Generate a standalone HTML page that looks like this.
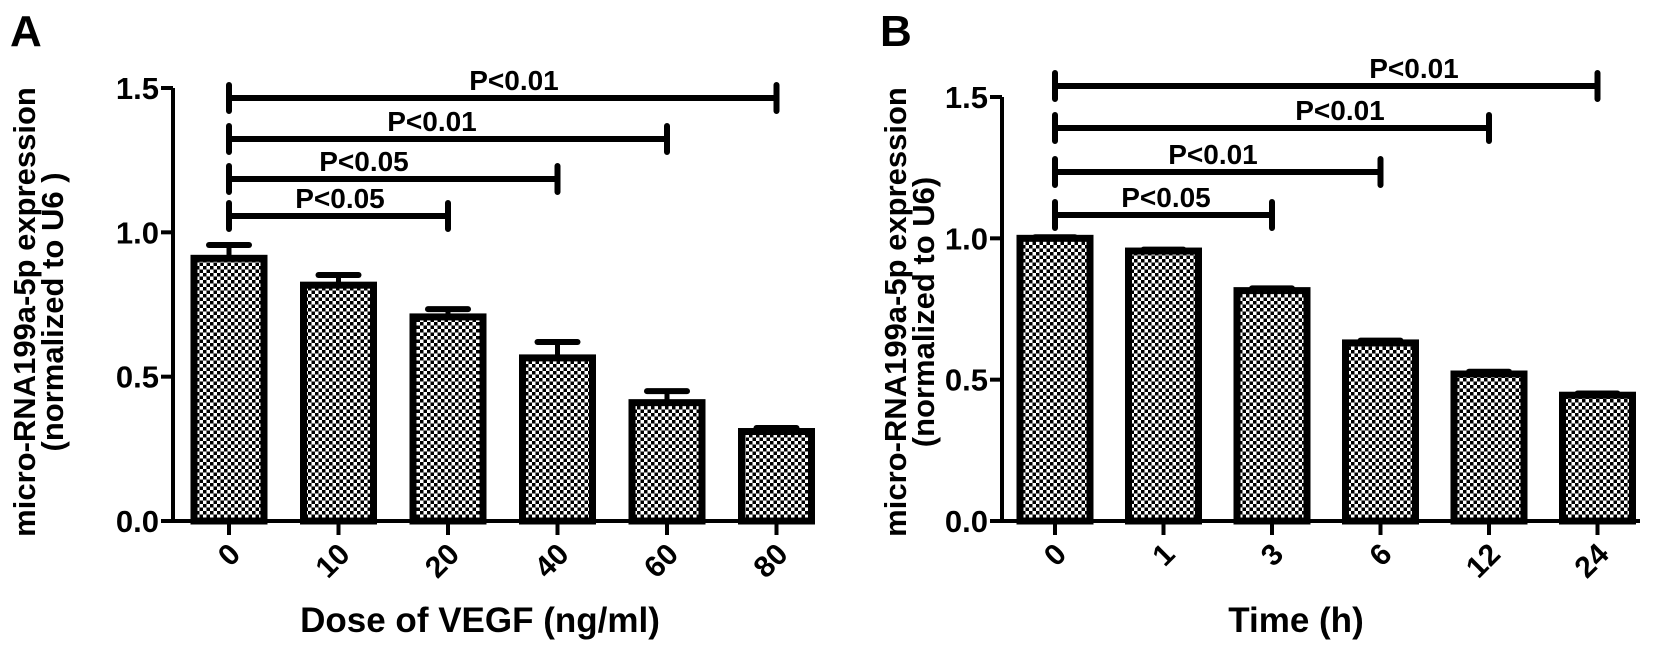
<!DOCTYPE html>
<html><head><meta charset="utf-8"><style>
html,body{margin:0;padding:0;background:#fff}
svg{display:block}
text{font-family:"Liberation Sans",Arial,sans-serif;font-weight:bold;fill:#000}
</style></head><body>
<svg id="fig" width="1654" height="651" viewBox="0 0 1654 651" xmlns="http://www.w3.org/2000/svg">
<defs>
<pattern id="chk" width="7" height="7" patternUnits="userSpaceOnUse">
<rect width="7" height="7" fill="#fff"/>
<rect x="0" y="0" width="3.5" height="3.5" fill="#000"/>
<rect x="3.5" y="3.5" width="3.5" height="3.5" fill="#000"/>
</pattern>
</defs>
<g id="panelA"></g>
<g id="panelB"></g>
</svg>
<script>
// Panel A data
const catsA = ["0","10","20","40","60","80"];
const valsA = [0.91,0.817,0.707,0.565,0.41,0.31];
const errA  = [0.046,0.035,0.027,0.055,0.04,0.012];
const sigA  = [["P<0.01",5],["P<0.01",4],["P<0.05",3],["P<0.05",2]];
// Panel B data
const catsB = ["0","1","3","6","12","24"];
const valsB = [1.0,0.955,0.815,0.63,0.52,0.445];
const errB  = [0.004,0.005,0.008,0.008,0.008,0.006];
const sigB  = [["P<0.01",5],["P<0.01",4],["P<0.01",3],["P<0.05",2]];
const yTicks = [0,0.5,1.0,1.5];
const yTickLabels = ["0.0","0.5","1.0","1.5"];

const NS="http://www.w3.org/2000/svg";
function mk(parent,tag,attrs){const e=document.createElementNS(NS,tag);for(const k in attrs)e.setAttribute(k,attrs[k]);parent.appendChild(e);return e;}

function drawPanel(g,cfg){
  const yS=v=>cfg.y0-(cfg.y0-cfg.y15)*v/1.5;
  const xS=i=>cfg.c0+cfg.sp*i;
  const L=mk(g,'text',{x:cfg.letterX,y:46,'font-size':44});
  
  
  L.textContent=cfg.letter;
  const t1=mk(g,'text',{x:0,y:0,'font-size':31,'text-anchor':'middle',transform:`translate(${cfg.t1x},312) rotate(-90)`});
  
  
  t1.textContent="micro-RNA199a-5p expression";
  const t2=mk(g,'text',{x:0,y:0,'font-size':31,'text-anchor':'middle',transform:`translate(${cfg.t2x},312) rotate(-90)`});
  
  
  t2.textContent=cfg.sub;
  cfg.vals.forEach((v,i)=>{
    const cx=xS(i),w=70;
    const top=yS(v),eTop=yS(v+cfg.err[i]);
    const eb=mk(g,'line',{x1:cx,x2:cx,y1:top,y2:eTop,stroke:'#000','stroke-width':5});
    
    
    const cap=mk(g,'line',{x1:cx-20,x2:cx+20,y1:eTop,y2:eTop,stroke:'#000','stroke-width':6,'stroke-linecap':'round'});
    
    
    const r=mk(g,'rect',{x:cx-w/2,y:top,width:w,height:cfg.y0-top,fill:'url(#chk)',stroke:'#000','stroke-width':7});
    
    
    const tk=mk(g,'line',{x1:cx,x2:cx,y1:cfg.y0,y2:cfg.y0+14,stroke:'#000','stroke-width':4});
    
    
    const tl=mk(g,'text',{x:0,y:0,'font-size':30,'text-anchor':'end',transform:`translate(${cx+13},${cfg.y0+35}) rotate(-45)`});
    
    
    tl.textContent=cfg.cats[i];
  });
  const ya=mk(g,'line',{x1:cfg.ax,x2:cfg.ax,y1:cfg.y15,y2:cfg.y0+2,stroke:'#000','stroke-width':4});
  
  
  const xa=mk(g,'line',{x1:cfg.ax-2,x2:cfg.xEnd,y1:cfg.y0,y2:cfg.y0,stroke:'#000','stroke-width':4});
  
  
  yTicks.forEach((v,i)=>{
    const y=yS(v);
    const t=mk(g,'line',{x1:cfg.ax-12,x2:cfg.ax,y1:y,y2:y,stroke:'#000','stroke-width':4});
    
    
    const l=mk(g,'text',{x:cfg.ax-14,y:y+11,'font-size':31,'text-anchor':'end'});
    
    
    l.textContent=yTickLabels[i];
  });
  cfg.sig.forEach((s,k)=>{
    const y=cfg.bY[k],x1=xS(0),x2=xS(s[1]);
    const b=mk(g,'path',{d:`M${x1},${y-13}V${y+13}M${x1},${y}H${x2}M${x2},${y-13}V${y+13}`,stroke:'#000','stroke-width':6,fill:'none','stroke-linecap':'round'});
    
    
    const tx=mk(g,'text',{x:cfg.lX[k],y:y-8,'font-size':28,'text-anchor':'middle'});
    
    
    tx.textContent=s[0];
  });
  const xt=mk(g,'text',{x:cfg.xtX,y:632,'font-size':35,'text-anchor':'middle'});
  
  
  xt.textContent=cfg.xt;
}

drawPanel(document.getElementById('panelA'),{
  letter:"A",letterX:10,t1x:35,t2x:63,sub:"(normalized to U6 )",
  cats:catsA,vals:valsA,err:errA,sig:sigA,
  ax:173,y0:521,y15:88,c0:229,sp:109.5,xEnd:815,
  bY:[98,139,179,216],lX:[514,432,364,340],
  xt:"Dose of VEGF (ng/ml)",xtX:480
});
drawPanel(document.getElementById('panelB'),{
  letter:"B",letterX:880,t1x:906,t2x:934,sub:"(normalized to U6)",
  cats:catsB,vals:valsB,err:errB,sig:sigB,
  ax:1002,y0:521,y15:97,c0:1055,sp:108.5,xEnd:1640,
  bY:[86,128,172,215],lX:[1414,1340,1213,1166],
  xt:"Time (h)",xtX:1296
});
</script>
</body></html>
